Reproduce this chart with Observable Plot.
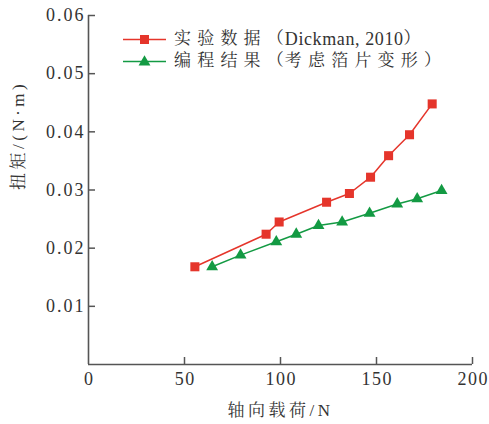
<!DOCTYPE html>
<html><head><meta charset="utf-8">
<script src="https://cdn.jsdelivr.net/npm/d3@7"></script>
<script src="https://cdn.jsdelivr.net/npm/@observablehq/plot@0.6"></script>
<style>
body{margin:0;background:#fff}
#wrap{position:relative;width:489px;height:424px;background:#fff}
#wrap svg text{font-family:"Liberation Serif","Noto Serif CJK SC",serif}
.leg{position:absolute;left:123px;display:flex;align-items:center;font-family:"Liberation Serif","Noto Serif CJK SC",serif;color:#333;white-space:nowrap;line-height:20px}
.leg svg{margin-right:8px}
.cjk{font-size:17px;letter-spacing:6.2px}
.par{font-size:17px;letter-spacing:1px}
.lat{font-size:18px;letter-spacing:0.6px}
</style>
</head><body><div id="wrap"></div><script>
const seriesNames = ["实验数据（Dickman, 2010）", "编程结果（考虑箔片变形）"];
const seriesColors = ["#e5352b", "#139a43"];
const expLoad = [55.4, 92.5, 99.3, 124, 135.9, 146.9, 156.3, 167.2, 179];
const expTorque = [0.0168, 0.0224, 0.0245, 0.0279, 0.0294, 0.0322, 0.0359, 0.0395, 0.0448];
const simLoad = [64.4, 79.2, 97.8, 108.2, 119.8, 132.1, 146.4, 160.8, 171.2, 183.9];
const simTorque = [0.0168, 0.0188, 0.0211, 0.0224, 0.0239, 0.0245, 0.0260, 0.0276, 0.0285, 0.0299];
const xTicks = [0, 50, 100, 150, 200];
const yTicks = [0.01, 0.02, 0.03, 0.04, 0.05, 0.06];
const xLabel = "轴向载荷/N";
const yLabel = "扭矩/(N·m)";

const exp = expLoad.map((x, i) => ({x, y: expTorque[i]}));
const sim = simLoad.map((x, i) => ({x, y: simTorque[i]}));
const axisColor = "#555";
const font = '"Liberation Serif","Noto Serif CJK SC",serif';

const chart = Plot.plot({
  width: 489, height: 424,
  marginLeft: 88, marginRight: 17, marginTop: 15, marginBottom: 60,
  x: {domain: [0, 200]},
  y: {domain: [0, 0.06]},
  style: {fontFamily: font, fontSize: "18px", background: "#fff", color: "#333", overflow: "visible"},
  marks: [
    Plot.axisX(xTicks, {tickSize: 0, tickPadding: 8, fontSize: 18, label: null, dx: 0.7}),
    Plot.axisX(xTicks.filter(d => d > 0), {tickSize: -7, tickFormat: () => "", label: null, stroke: axisColor, strokeWidth: 1.5}),
    Plot.axisY(yTicks, {tickSize: 0, tickPadding: 3, fontSize: 18, label: null, tickFormat: d3.format(".2f")}),
    Plot.axisY(yTicks, {tickSize: -7, tickFormat: () => "", label: null, stroke: axisColor, strokeWidth: 1.5}),
    Plot.ruleX([0], {stroke: axisColor, strokeWidth: 1.6}),
    Plot.ruleY([0], {stroke: axisColor, strokeWidth: 1.6}),
    Plot.text([xLabel], {frameAnchor: "bottom", dy: 46, fontSize: 17, lineAnchor: "middle", fill: "#333"}),
    Plot.text([yLabel], {frameAnchor: "left", dx: -70, rotate: -90, fontSize: 17, lineAnchor: "middle", fill: "#333"}),
    Plot.line(exp, {x: "x", y: "y", stroke: seriesColors[0], strokeWidth: 1.5}),
    Plot.line(sim, {x: "x", y: "y", stroke: seriesColors[1], strokeWidth: 1.5}),
    Plot.dot(exp, {x: "x", y: "y", symbol: "square", r: 5.1, fill: seriesColors[0], stroke: "none"}),
    Plot.dot(sim, {x: "x", y: "y", symbol: "triangle", r: 4.4, fill: seriesColors[1], stroke: "none"})
  ]
});
const sel = d3.select(chart);
sel.selectAll("text").filter(function(){ const t=this.textContent; return t===xLabel||t===yLabel; }).style("letter-spacing","3.5px");
sel.selectAll('g[aria-label="y-axis tick label"] text').style("letter-spacing","2px");
sel.selectAll('g[aria-label="x-axis tick label"] text').style("letter-spacing","1.4px");
const wrap = document.getElementById("wrap");
wrap.appendChild(chart);

function cls(ch) {
  if (/[（）]/.test(ch)) return "par";
  if (/[\u3000-\u9fff]/.test(ch)) return "cjk";
  return "lat";
}
function runs(s) {
  const out = [];
  for (const ch of s) {
    const c = cls(ch);
    if (out.length && out[out.length - 1].c === c) out[out.length - 1].t += ch;
    else out.push({c, t: ch});
  }
  return out.map(r => `<span class="${r.c}">${r.t}</span>`).join("");
}

const tops = [29, 51];
seriesNames.forEach((name, i) => {
  const div = document.createElement("div");
  div.className = "leg";
  div.style.top = tops[i] + "px";
  const c = seriesColors[i];
  const marker = i === 0
    ? `<rect x="17" y="2" width="9" height="9" fill="${c}"/>`
    : `<path d="${d3.symbol(d3.symbolTriangle, Math.PI*4.4*4.4)()}" transform="translate(21.5,7)" fill="${c}"/>`;
  div.innerHTML = `<svg width="43" height="13" viewBox="0 0 43 13"><line x1="0" x2="43" y1="6.5" y2="6.5" stroke="${c}" stroke-width="1.5"/>${marker}</svg>${runs(name)}`;
  wrap.appendChild(div);
});
</script></body></html>
